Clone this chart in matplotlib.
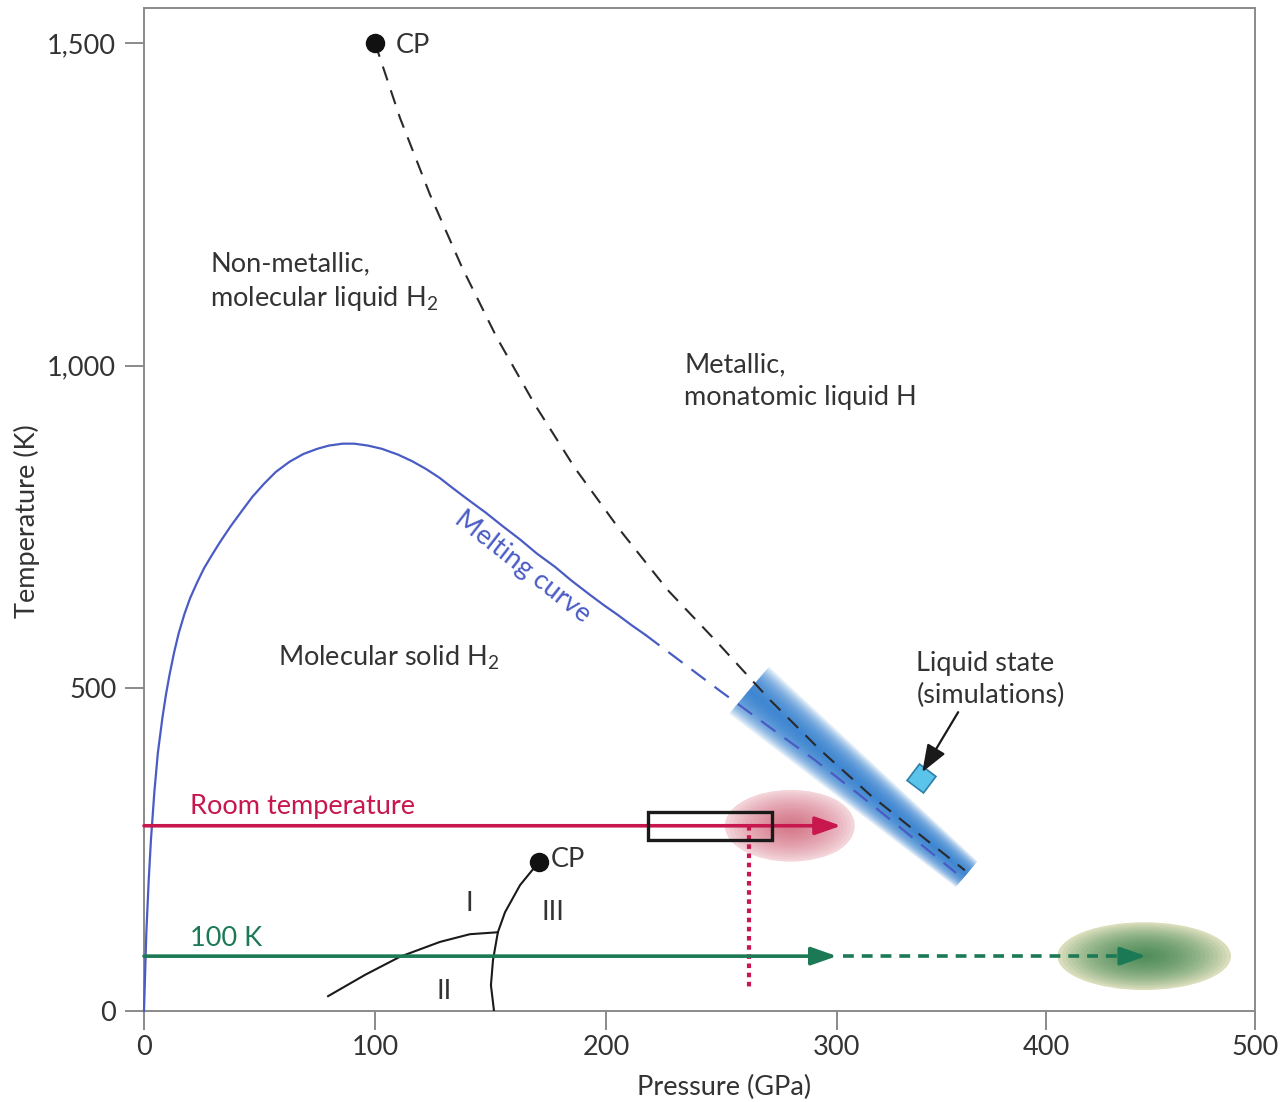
import numpy as np
import matplotlib.pyplot as plt
from matplotlib.patches import Ellipse, Rectangle, Polygon
from matplotlib.ticker import FuncFormatter
import matplotlib.transforms as mtransforms

plt.rcParams['font.family'] = ['Lato', 'DejaVu Sans']
plt.rcParams['mathtext.fontset'] = 'custom'
plt.rcParams['mathtext.rm'] = 'Lato'

# --- data ---
# melting curve, solid part (P in GPa, T in K)
melt_P = [0, 0.5, 1, 2, 3, 4.5, 6, 8, 9.5, 11, 13, 15, 17.5, 20, 23, 26, 29.5,
          33, 37.5, 42, 47, 52, 57, 63, 69, 75, 80, 86, 91, 97, 103, 110, 116,
          122, 128, 133, 140, 148, 155, 163, 170, 178, 185, 193, 199, 205, 211, 217]
melt_T = [0, 60, 120, 200, 265, 340, 400, 455, 490, 520, 555, 585, 615, 640,
          664, 686, 707, 727, 751, 773, 797, 817, 835, 851, 863, 871, 876, 879,
          879, 876, 871, 862, 852, 840, 826, 812, 793, 772, 752, 730, 709, 688,
          667, 645, 629, 614, 598, 583]
# melting curve, extrapolated (dashed)
melt_ext_P = [217, 249, 270, 290, 310, 330, 357]
melt_ext_T = [583, 497, 442, 390, 337, 285, 214]

# liquid-liquid transition line from the critical point
llt_P = [100, 110.8, 123.8, 137.7, 152.8, 169.3, 186.6, 206.1, 226.8, 248.5,
         271.0, 292.6, 315.8, 339.7, 361.2]
llt_T = [1500, 1384, 1265, 1152, 1043, 939, 841, 745, 652, 570, 482, 405,
         335, 273, 218]

# low-temperature solid phase boundaries
b1_P = [171.0, 162.8, 156.3, 153.2, 151.1, 150.2, 151.5]
b1_T = [231, 195, 153, 122, 79, 40, 1]
b2_P = [79.7, 95.7, 110.8, 128.1, 141.1, 153.2]
b2_T = [23, 56, 84, 107, 119, 122]

cp_hi = (100, 1500)
cp_lo = (171, 231)

room_T = 287
room_end = 302
cold_T = 85
cold_end = 300
cold_ext_end = 448

rect_P = (218, 272)
rect_T = (265, 308)
dotted_P = 262
dotted_T = (286, 36)

red_cloud = (280, 287, 57, 111)      # centre P, centre T, width, height
green_cloud = (447, 85, 83, 105)

band_P = [262, 362]
band_T = [497, 212]

sim_point = (340, 361)
sim_arrow_from = (358, 463)
sim_label = (338, 513)

red = '#c8174f'
green = '#1b7a55'
blue = '#4a5cc4'
txt = '#333333'
grey = '#8a8a8a'


# x-axis is compressed above 300 GPa in the original figure
def fwd(x):
    x = np.asarray(x, dtype=float)
    return np.where(x <= 300, x, 300 + (x - 300) * 0.905)


def inv(x):
    x = np.asarray(x, dtype=float)
    return np.where(x <= 300, x, 300 + (x - 300) / 0.905)


fig = plt.figure(figsize=(12.87, 11.02), dpi=100)
ax = fig.add_axes([144 / 1287, 91 / 1102, (1255 - 144) / 1287, (1011 - 8) / 1102])
ax.set_xscale('function', functions=(fwd, inv))
ax.set_xlim(0, 500)
ax.set_ylim(0, 1554)

fs = 19.5
head = '-|>,head_length=1.2,head_width=0.42'

# liquid state band (simulations), drawn with stacked strips for the glow
fig.canvas.draw()
d0, d1 = ax.transData.transform([[band_P[0], band_T[0]], [band_P[1], band_T[1]]])
v = d1 - d0
n = np.array([-v[1], v[0]]) / np.hypot(*v)
for k in range(28):
    f = 1 - k / 28
    w0, w1 = 31 * f, 17 * f
    pts = [d0 + n * w0, d1 + n * w1, d1 - n * w1, d0 - n * w0]
    ax.add_patch(Polygon(pts, closed=True, transform=mtransforms.IdentityTransform(),
                         facecolor='#3582d2', edgecolor='none', alpha=0.085, zorder=1))

# red cloud
ax.add_patch(Ellipse(red_cloud[:2], red_cloud[2], red_cloud[3],
                     facecolor='#f6dde1', edgecolor='none', zorder=1))
for k in range(16):
    f = 1 - k / 16
    ax.add_patch(Ellipse(red_cloud[:2], red_cloud[2] * f, red_cloud[3] * f,
                         facecolor='#c83a58', edgecolor='none', alpha=0.055, zorder=1))

# green cloud
ax.add_patch(Ellipse(green_cloud[:2], green_cloud[2], green_cloud[3],
                     facecolor='#e8e5c4', edgecolor='none', zorder=1))
for k in range(20):
    f = 1 - k / 20
    ax.add_patch(Ellipse(green_cloud[:2], green_cloud[2] * f, green_cloud[3] * f,
                         facecolor='#2c7a45', edgecolor='none', alpha=0.07, zorder=1))

# melting curve
ax.plot(melt_P, melt_T, color=blue, lw=1.6, zorder=3, clip_on=False)
ax.plot(melt_ext_P, melt_ext_T, color=blue, lw=1.6, ls=(0, (8, 5)), zorder=3)

# liquid-liquid line
ax.plot(llt_P, llt_T, color='#2a2a2a', lw=1.5, ls=(0, (7, 5)), zorder=3)
ax.plot(*cp_hi, 'o', color='#111111', ms=13, zorder=4)
ax.text(cp_hi[0] + 9, cp_hi[1] - 4, 'CP', fontsize=fs, color=txt, va='center')

# solid phase boundaries
ax.plot(b1_P, b1_T, color='#1a1a1a', lw=1.5, zorder=3)
ax.plot(b2_P, b2_T, color='#1a1a1a', lw=1.5, zorder=3)
ax.plot(*cp_lo, 'o', color='#111111', ms=13, zorder=4)
ax.text(cp_lo[0] + 5, cp_lo[1] + 3, 'CP', fontsize=fs, color=txt, va='center')
ax.text(141, 167, 'I', fontsize=fs, color=txt, ha='center', va='center')
ax.text(177, 153, 'III', fontsize=fs, color=txt, ha='center', va='center')
ax.text(130, 30, 'II', fontsize=fs, color=txt, ha='center', va='center')

# room temperature path
ax.annotate('', xy=(room_end, room_T), xytext=(0, room_T),
            arrowprops=dict(arrowstyle=head, color=red, lw=2.6, shrinkA=0,
                            shrinkB=0, mutation_scale=13), zorder=5)
ax.text(20, room_T + 30, 'Room temperature', fontsize=fs, color=red, va='center')
ax.add_patch(Rectangle((rect_P[0], rect_T[0]), rect_P[1] - rect_P[0], rect_T[1] - rect_T[0],
                       fill=False, edgecolor='#1a1a1a', lw=2.4, zorder=6))
ax.plot([dotted_P, dotted_P], dotted_T, color=red, lw=3, ls=(0, (1.1, 1.1)), zorder=5)

# 100 K path
ax.annotate('', xy=(cold_end, cold_T), xytext=(0, cold_T),
            arrowprops=dict(arrowstyle=head, color=green, lw=2.6, shrinkA=0,
                            shrinkB=0, mutation_scale=13), zorder=5)
ax.plot([cold_end + 3, cold_ext_end - 6], [cold_T, cold_T], color=green, lw=2.6,
        ls=(0, (3, 2.2)), zorder=5)
ax.annotate('', xy=(cold_ext_end, cold_T), xytext=(cold_ext_end - 8, cold_T),
            arrowprops=dict(arrowstyle=head, color=green, lw=2.6, shrinkA=0,
                            shrinkB=0, mutation_scale=13), zorder=5)
ax.text(20, cold_T + 28, '100 K', fontsize=fs, color=green, va='center')

# simulations marker
ax.plot(*sim_point, marker=(4, 0, 8), ms=21, color='#5bc4ea', mec='#2d7fa8',
        mew=1.2, zorder=6)
ax.annotate('', xy=(sim_point[0] + 0.8, sim_point[1] + 9), xytext=sim_arrow_from,
            arrowprops=dict(arrowstyle='-|>,head_length=1.2,head_width=0.45',
                            color='#1a1a1a', lw=1.6, shrinkA=0, shrinkB=0,
                            mutation_scale=14), zorder=7)
ax.text(*sim_label, 'Liquid state\n(simulations)', fontsize=fs, color=txt,
        va='center', linespacing=1.35)

# region labels
ax.text(28.6, 1130, 'Non-metallic,\nmolecular liquid H$_2$', fontsize=fs, color=txt,
        va='center', linespacing=1.35)
ax.text(234, 976, 'Metallic,\nmonatomic liquid H', fontsize=fs, color=txt,
        va='center', linespacing=1.35)
ax.text(58, 548, 'Molecular solid H$_2$', fontsize=fs, color=txt, va='center')
ax.text(164, 688, 'Melting curve', fontsize=fs, color=blue, rotation=-38,
        ha='center', va='center', rotation_mode='anchor')

# axes styling
ax.set_xticks([0, 100, 200, 300, 400, 500])
ax.set_yticks([0, 500, 1000, 1500])
ax.yaxis.set_major_formatter(FuncFormatter(lambda v, p: f'{v:,.0f}'))
ax.xaxis.set_major_formatter(FuncFormatter(lambda v, p: f'{v:.0f}'))
ax.xaxis.set_minor_locator(plt.NullLocator())
ax.tick_params(direction='out', length=14, width=1.4, color=grey,
               labelcolor=txt, labelsize=fs)
ax.tick_params(axis='y', pad=6)
ax.tick_params(axis='x', pad=3)
for s in ax.spines.values():
    s.set_color(grey)
    s.set_linewidth(1.4)

ax.set_xlabel('Pressure (GPa)', fontsize=fs, color=txt)
ax.set_ylabel('Temperature (K)', fontsize=fs, color=txt)
ax.xaxis.set_label_coords(0.522, -0.064)
ax.yaxis.set_label_coords(-0.094, 0.488)

fig.savefig('out.png', dpi=100)
